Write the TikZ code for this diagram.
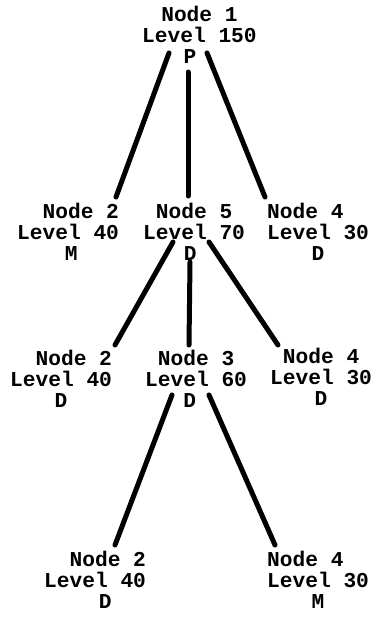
\documentclass[tikz,border=0pt]{standalone}
\usepackage{fontspec}
\setmonofont{Liberation Mono}
% indent by a number of monospace character widths
\newcommand\ind[1]{\hspace*{#1\fontcharwd\font`0}}
\tikzset{
  tnode/.style={anchor=north west, inner sep=0pt, align=left,
    font=\ttfamily\bfseries\fontsize{21.2}{21}\selectfont},
  edge/.style={line width=5pt, line cap=round},
}
\begin{document}
\begin{tikzpicture}[x=1pt,y=-1pt]
\useasboundingbox (0,0) rectangle (384,619);
% level 1
\node[tnode] (n1) at (142,6) {\ind{1.5}Node 1\\Level 150\\\ind{3.25}P};
% level 2
\node[tnode] (n2a) at (17,203) {\ind{2}Node 2\\Level 40\\\ind{3.75}M};
\node[tnode] (n5) at (143,203) {\ind{1}Node 5\\Level 70\\\ind{3.2}D};
\node[tnode] (n4a) at (267,203) {Node 4\\Level 30\\\ind{3.5}D};
% level 3
\node[tnode] (n2b) at (10,350) {\ind{2}Node 2\\Level 40\\\ind{3.5}D};
\node[tnode] (n3) at (145,350) {\ind{1}Node 3\\Level 60\\\ind{3}D};
\node[tnode] (n4b) at (270,348) {\ind{1}Node 4\\Level 30\\\ind{3.5}D};
% level 4
\node[tnode] (n2c) at (44,551) {\ind{2}Node 2\\Level 40\\\ind{4.3}D};
\node[tnode] (n4c) at (267,551) {Node 4\\Level 30\\\ind{3.5}M};
% branches
\draw[edge] ([shift={(27,47)}]n1.north west) -- ([shift={(99,-6)}]n2a.north west);
\draw[edge] ([shift={(46,66)}]n1.north west) -- ([shift={(45,-7)}]n5.north west);
\draw[edge] ([shift={(65,47)}]n1.north west) -- ([shift={(-2,-6)}]n4a.north west);
\draw[edge] ([shift={(30,39)}]n5.north west) -- ([shift={(105,-5)}]n2b.north west);
\draw[edge] ([shift={(47,59)}]n5.north west) -- ([shift={(44,-5)}]n3.north west);
\draw[edge] ([shift={(66,39)}]n5.north west) -- ([shift={(8,-3)}]n4b.north west);
\draw[edge] ([shift={(27,45)}]n3.north west) -- ([shift={(71,-6)}]n2c.north west);
\draw[edge] ([shift={(64,45)}]n3.north west) -- ([shift={(8,-6)}]n4c.north west);
\end{tikzpicture}
\end{document}
